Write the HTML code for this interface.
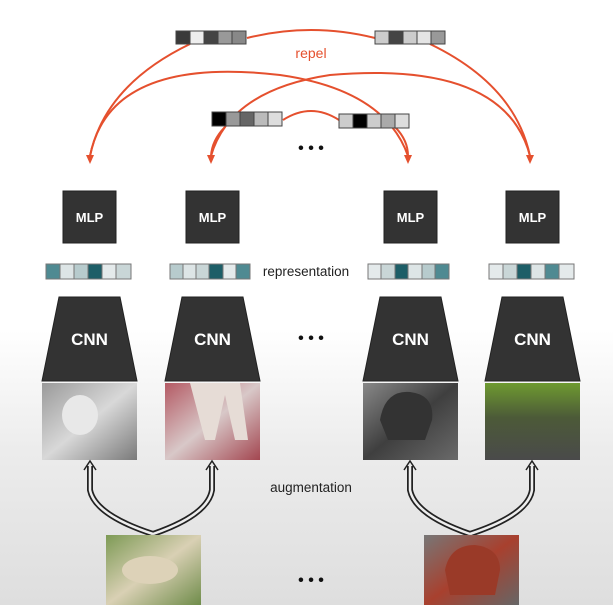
<!DOCTYPE html>
<html><head><style>
html,body{margin:0;padding:0;}
body{width:613px;height:605px;overflow:hidden;background:linear-gradient(#fff 0px,#fff 330px,#ececec 450px,#dedede 605px);font-family:"Liberation Sans",sans-serif;}
svg{position:absolute;left:0;top:0;}
</style></head><body>
<svg width="613" height="605" viewBox="0 0 613 605" xmlns="http://www.w3.org/2000/svg">
<defs>
<linearGradient id="g1" x1="0" y1="0" x2="1" y2="1"><stop offset="0" stop-color="#9a9a9a"/><stop offset="0.5" stop-color="#d8d8d8"/><stop offset="1" stop-color="#7a7a7a"/></linearGradient>
<linearGradient id="g2" x1="0" y1="0" x2="1" y2="1"><stop offset="0" stop-color="#b45a64"/><stop offset="0.5" stop-color="#d8c8c8"/><stop offset="1" stop-color="#a34650"/></linearGradient>
<linearGradient id="g3" x1="0" y1="0" x2="1" y2="1"><stop offset="0" stop-color="#888"/><stop offset="0.5" stop-color="#3f3f3f"/><stop offset="1" stop-color="#6a6a6a"/></linearGradient>
<linearGradient id="g4" x1="0" y1="0" x2="0" y2="1"><stop offset="0" stop-color="#6e9a30"/><stop offset="0.45" stop-color="#4c5a38"/><stop offset="1" stop-color="#4a4a4a"/></linearGradient>
<linearGradient id="g5" x1="0" y1="0" x2="1" y2="1"><stop offset="0" stop-color="#7d9a55"/><stop offset="0.5" stop-color="#d9d0b4"/><stop offset="1" stop-color="#6f8c4a"/></linearGradient>
<linearGradient id="g6" x1="0" y1="0" x2="1" y2="1"><stop offset="0" stop-color="#777"/><stop offset="0.5" stop-color="#a8402e"/><stop offset="1" stop-color="#666"/></linearGradient>
</defs>

<!-- red arcs -->
<g fill="none" stroke="#e5502e" stroke-width="2">
<path d="M247,38 Q311,22 375,38"/>
<path d="M283,120 Q311,102 339,120"/>
<path d="M190,44 Q105,85 90,156"/>
<path d="M430,44 Q515,85 530,156"/>
<path d="M90,156 Q110,55 280,75 Q385,90 408,156"/>
<path d="M211,156 Q230,90 330,75 Q505,60 530,156"/>
<path d="M225,127 Q212,140 211,156"/>
<path d="M395,127 Q408,140 408,156"/>
</g>
<g fill="#e5502e">
<polygon points="86,155 94,155 90,164"/><polygon points="207,155 215,155 211,164"/>
<polygon points="404,155 412,155 408,164"/><polygon points="526,155 534,155 530,164"/>
</g>
<text x="311" y="58" font-size="14" fill="#e5502e" text-anchor="middle">repel</text>

<!-- top vectors -->
<g stroke="#444" stroke-width="1">
<rect x="176" y="31" width="14" height="13" fill="#3a3a3a"/><rect x="190" y="31" width="14" height="13" fill="#eee"/><rect x="204" y="31" width="14" height="13" fill="#444"/><rect x="218" y="31" width="14" height="13" fill="#999"/><rect x="232" y="31" width="14" height="13" fill="#888"/>
<rect x="375" y="31" width="14" height="13" fill="#ccc"/><rect x="389" y="31" width="14" height="13" fill="#444"/><rect x="403" y="31" width="14" height="13" fill="#ccc"/><rect x="417" y="31" width="14" height="13" fill="#e4e4e4"/><rect x="431" y="31" width="14" height="13" fill="#999"/>
<rect x="212" y="112" width="14" height="14" fill="#000"/><rect x="226" y="112" width="14" height="14" fill="#999"/><rect x="240" y="112" width="14" height="14" fill="#666"/><rect x="254" y="112" width="14" height="14" fill="#bbb"/><rect x="268" y="112" width="14" height="14" fill="#ddd"/>
<rect x="339" y="114" width="14" height="14" fill="#ccc"/><rect x="353" y="114" width="14" height="14" fill="#000"/><rect x="367" y="114" width="14" height="14" fill="#ccc"/><rect x="381" y="114" width="14" height="14" fill="#aaa"/><rect x="395" y="114" width="14" height="14" fill="#ddd"/>
</g>
<text x="311" y="153" font-size="16" fill="#111" text-anchor="middle" font-weight="bold">• • •</text>

<!-- MLP -->
<g fill="#333" stroke="#222">
<rect x="63" y="191" width="53" height="52"/><rect x="186" y="191" width="53" height="52"/><rect x="384" y="191" width="53" height="52"/><rect x="506" y="191" width="53" height="52"/>
</g>
<g font-size="13" fill="#fff" font-weight="bold" text-anchor="middle">
<text x="89.5" y="222">MLP</text><text x="212.5" y="222">MLP</text><text x="410.5" y="222">MLP</text><text x="532.5" y="222">MLP</text>
</g>

<!-- representation bars -->
<g stroke="#777" stroke-width="1">
<rect x="46" y="264" width="14" height="15" fill="#4f8a92"/><rect x="60" y="264" width="14" height="15" fill="#dde5e6"/><rect x="74" y="264" width="14" height="15" fill="#b7cbcd"/><rect x="88" y="264" width="14" height="15" fill="#1d5e67"/><rect x="102" y="264" width="14" height="15" fill="#e4eaeb"/><rect x="116" y="264" width="15" height="15" fill="#c9d6d7"/>
<rect x="170" y="264" width="13" height="15" fill="#b7cbcd"/><rect x="183" y="264" width="13" height="15" fill="#dde5e6"/><rect x="196" y="264" width="13" height="15" fill="#c9d6d7"/><rect x="209" y="264" width="14" height="15" fill="#1d5e67"/><rect x="223" y="264" width="13" height="15" fill="#e4eaeb"/><rect x="236" y="264" width="14" height="15" fill="#4f8a92"/>
<rect x="368" y="264" width="13" height="15" fill="#e4eaeb"/><rect x="381" y="264" width="14" height="15" fill="#c9d6d7"/><rect x="395" y="264" width="13" height="15" fill="#1d5e67"/><rect x="408" y="264" width="14" height="15" fill="#dde5e6"/><rect x="422" y="264" width="13" height="15" fill="#b7cbcd"/><rect x="435" y="264" width="14" height="15" fill="#4f8a92"/>
<rect x="489" y="264" width="14" height="15" fill="#e4eaeb"/><rect x="503" y="264" width="14" height="15" fill="#c9d6d7"/><rect x="517" y="264" width="14" height="15" fill="#1d5e67"/><rect x="531" y="264" width="14" height="15" fill="#dde5e6"/><rect x="545" y="264" width="14" height="15" fill="#4f8a92"/><rect x="559" y="264" width="15" height="15" fill="#e4eaeb"/>
</g>
<text x="306" y="276" font-size="13.5" fill="#222" text-anchor="middle">representation</text>

<!-- CNN -->
<g fill="#333" stroke="#222">
<polygon points="59,297 120,297 137,381 42,381"/>
<polygon points="182,297 243,297 260,381 165,381"/>
<polygon points="380,297 441,297 458,381 363,381"/>
<polygon points="502,297 563,297 580,381 485,381"/>
</g>
<g font-size="17" fill="#fff" font-weight="bold" text-anchor="middle">
<text x="89.5" y="345">CNN</text><text x="212.5" y="345">CNN</text><text x="410.5" y="345">CNN</text><text x="532.5" y="345">CNN</text>
</g>
<text x="311" y="343" font-size="16" fill="#111" text-anchor="middle" font-weight="bold">• • •</text>

<!-- images -->
<rect x="42" y="383" width="95" height="77" fill="url(#g1)"/>
<ellipse cx="80" cy="415" rx="18" ry="20" fill="#e8e8e8"/>
<rect x="165" y="383" width="95" height="77" fill="url(#g2)"/>
<path d="M190,383 L205,440 L215,440 L225,395 L235,440 L248,440 L240,383Z" fill="#e6dcd6"/>
<rect x="363" y="383" width="95" height="77" fill="url(#g3)"/>
<path d="M380,420 Q385,390 410,392 Q435,395 432,420 L425,440 L388,440Z" fill="#333"/>
<rect x="485" y="383" width="95" height="77" fill="url(#g4)"/>

<text x="311" y="492" font-size="13.5" fill="#222" text-anchor="middle">augmentation</text>

<!-- double arrows -->
<g fill="none">
<g stroke="#222" stroke-width="6">
<path d="M153,534 Q95,515 90,490 L90,466"/><path d="M153,534 Q208,515 212,490 L212,466"/>
<path d="M470,534 Q415,515 410,490 L410,466"/><path d="M470,534 Q528,515 532,490 L532,466"/>
</g>
<g stroke="#eee" stroke-width="2.5">
<path d="M153,534 Q95,515 90,490 L90,466"/><path d="M153,534 Q208,515 212,490 L212,466"/>
<path d="M470,534 Q415,515 410,490 L410,466"/><path d="M470,534 Q528,515 532,490 L532,466"/>
</g>
<g stroke="#222" stroke-width="1.5">
<path d="M84,470 L90,461 L96,470"/><path d="M206,470 L212,461 L218,470"/>
<path d="M404,470 L410,461 L416,470"/><path d="M526,470 L532,461 L538,470"/>
</g>
</g>

<rect x="106" y="535" width="95" height="70" fill="url(#g5)"/>
<ellipse cx="150" cy="570" rx="28" ry="14" fill="#ddd2b8"/>
<rect x="424" y="535" width="95" height="70" fill="url(#g6)"/>
<path d="M445,570 Q450,545 475,545 Q500,548 500,570 L495,595 L450,595Z" fill="#9a3a28"/>
<text x="311" y="585" font-size="16" fill="#111" text-anchor="middle" font-weight="bold">• • •</text>
</svg>
</body></html>
